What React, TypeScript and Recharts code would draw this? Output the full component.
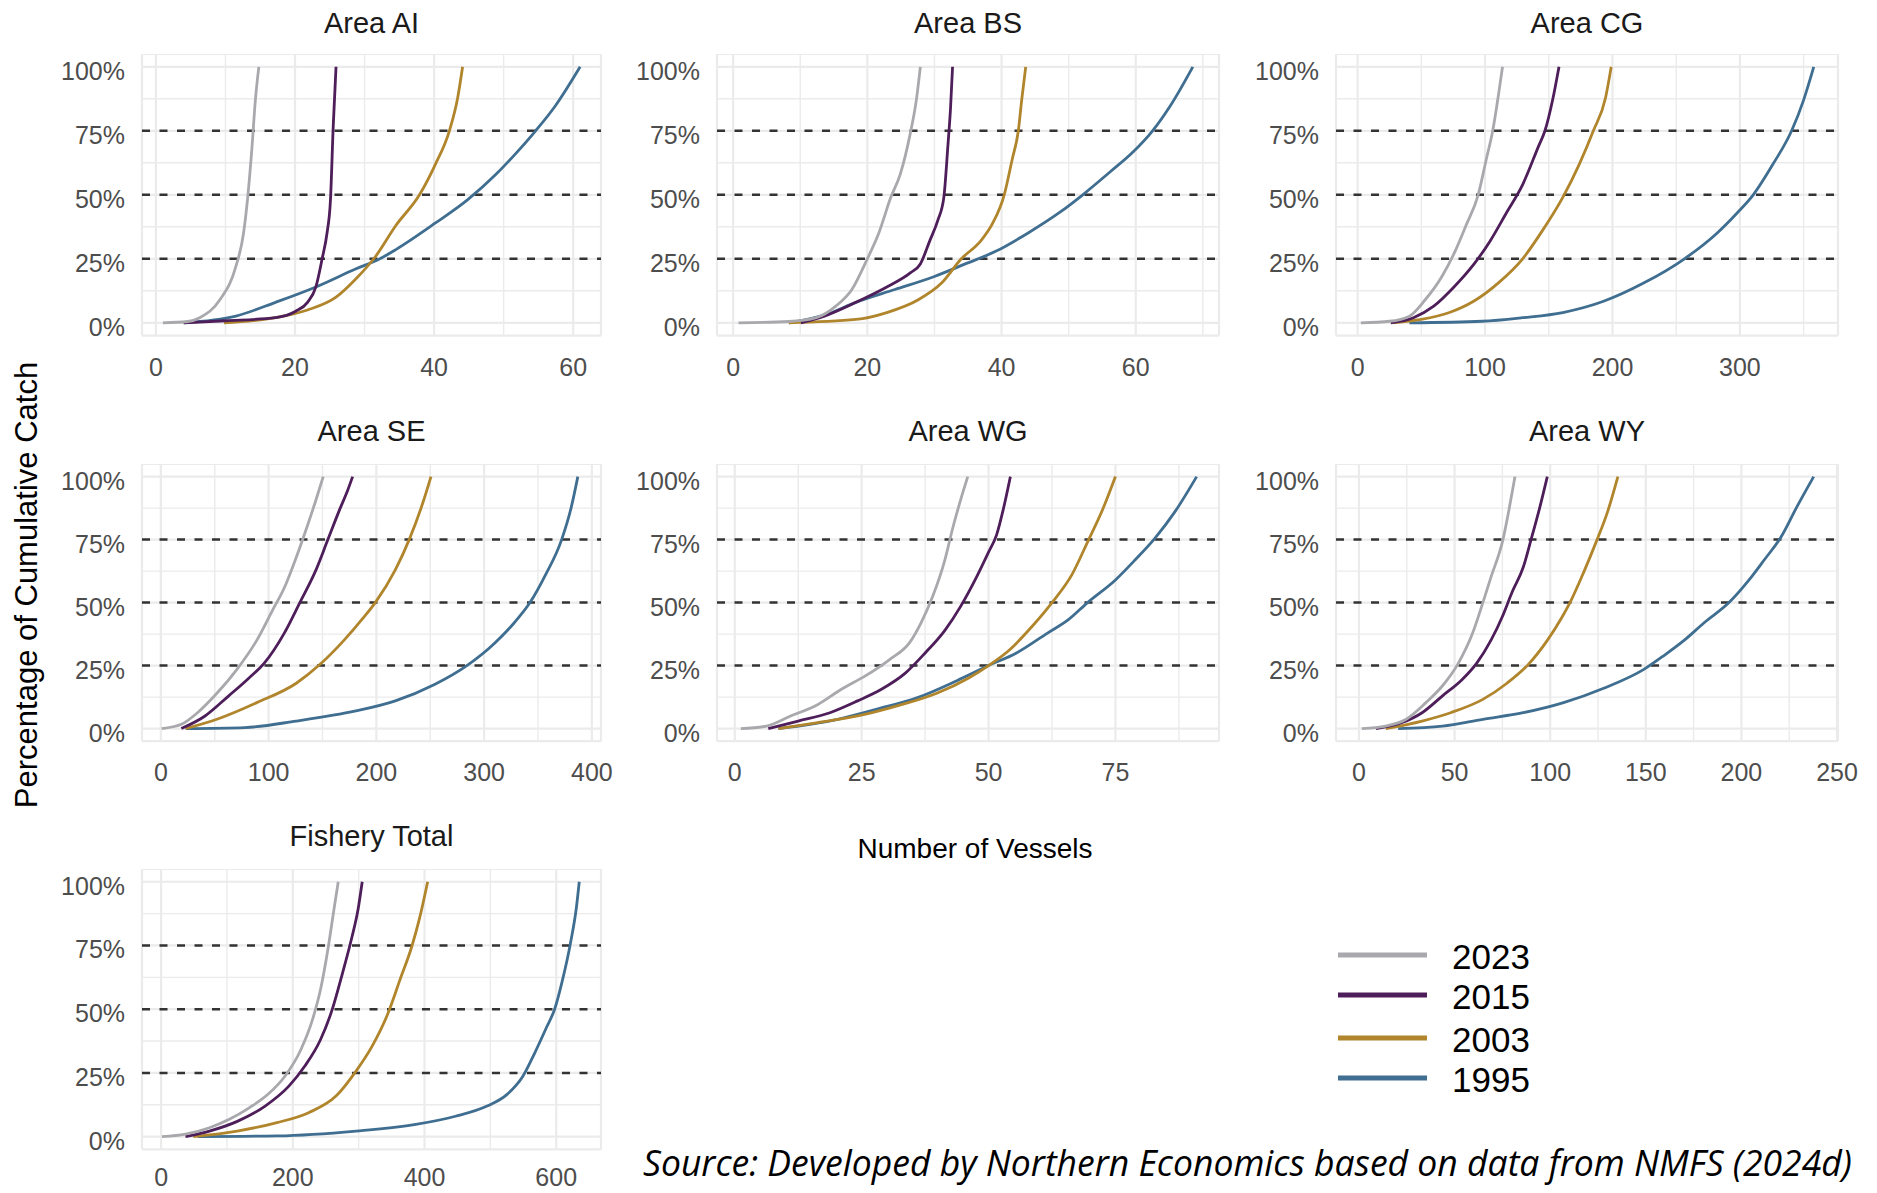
import React from 'react';
import { LineChart, Line, XAxis, YAxis, CartesianGrid, ReferenceLine } from 'recharts';

// legend categories, drawn bottom-up so 2023 ends on top
const years = ['2023', '2015', '2003', '1995'];
const yearColors = ['#A9A9AD', '#4E1E5A', '#B0852C', '#3F6E91'];

const yTicks = [0, 25, 50, 75, 100];
const yMinor = [12.5, 37.5, 62.5, 87.5];
const refLevels = [25, 50, 75];

// [vessels, cumulative catch %]
const ai2023 = [[1, 0], [4.6, 0.5], [6.3, 2], [9.2, 9], [11.5, 22], [12.6, 35], [13.2, 49], [13.8, 68], [14.3, 87], [14.8, 100]];
const ai2015 = [[4, 0], [10, 0.8], [17.2, 2], [20.1, 4.5], [21.8, 8], [23, 14], [23.9, 25], [24.6, 35], [25.1, 48], [25.5, 77], [25.9, 100]];
const ai2003 = [[9.8, 0], [17.2, 2], [21.8, 5], [25.9, 10], [28.7, 17], [31.6, 26], [34.5, 38], [37.9, 50], [40.2, 62], [42.2, 75], [43.4, 88], [44.1, 100]];
const ai1995 = [[4, 0], [11.5, 2.6], [17.2, 8], [23, 14], [28.7, 21], [32.2, 25], [34.5, 28.6], [40.2, 39], [44.8, 48], [48.9, 58], [51.7, 66], [54.6, 75], [57.5, 85], [61, 100]];

const bs2023 = [[0.8, 0], [8.3, 0.5], [12.4, 2], [15.3, 6.5], [17.7, 13], [20, 25], [21.7, 35], [23.5, 49], [24.9, 58], [26.4, 74], [27.3, 87], [27.9, 100]];
const bs2015 = [[10.1, 0], [13.6, 2.6], [18.3, 8], [22.9, 14], [26.4, 19.5], [27.9, 23], [29.3, 32], [30.5, 40], [31.4, 49], [32, 69], [32.4, 84], [32.7, 100]];
const bs2003 = [[8.3, 0], [18.3, 1.3], [22.9, 4], [27.6, 9], [31.1, 15.6], [34, 25], [36.9, 32], [38.7, 39], [40.4, 50], [41.6, 64], [42.5, 75], [43, 87], [43.6, 100]];
const bs1995 = [[8.3, 0], [13.6, 3], [18.3, 8], [24.1, 13], [29.9, 18], [34.6, 23], [39.2, 28], [43.9, 35], [48.6, 43], [52.1, 50], [56.2, 59], [59.7, 67], [62.5, 75], [65.2, 85], [68.5, 100]];

const cg2023 = [[2.5, 0], [25, 0.6], [40.6, 2.6], [53, 9], [66, 18], [75.6, 27], [85, 38], [94.6, 50], [101, 64], [106, 75], [110.8, 90], [113.7, 100]];
const cg2015 = [[26, 0], [43.8, 2], [59.7, 6.5], [75.6, 14], [91.4, 23], [104, 32], [116.8, 43], [129.5, 54], [142, 69], [147, 75], [153, 87], [158, 100]];
const cg2003 = [[28, 0], [50, 1.3], [72, 4], [91, 8.4], [110.5, 15.6], [129.5, 25], [145, 36], [161, 49], [174, 62], [185, 75], [194.6, 88], [199, 100]];
const cg1995 = [[40.6, 0], [97.8, 0.6], [129.5, 2], [161, 4], [193, 8.4], [224.8, 15.6], [256.5, 25], [282, 35], [298, 43], [310.5, 50], [326, 62], [340.6, 75], [350, 87], [358, 100]];

const se2023 = [[0.7, 0], [19, 1.7], [34, 6.3], [52, 14], [70.6, 23.5], [89, 35], [103.7, 47], [114.7, 56], [125.7, 68], [136.8, 81.5], [144, 90.8], [150.7, 100]];
const se2015 = [[19, 0], [41, 5], [63, 13], [81.6, 20], [96, 26], [114.7, 38], [129, 50], [144, 63], [155, 75], [166, 87], [173.5, 94.7], [178, 100]];
const se2003 = [[23, 0], [52, 3.7], [89, 10.3], [125.7, 18], [147.8, 25.5], [169.9, 35], [188, 44], [199, 50], [217.6, 63], [230.5, 75], [243, 89.4], [250.7, 100]];
const se1995 = [[23, 0], [78, 0.4], [125.7, 3], [181, 7], [217.6, 11], [254, 17.5], [284, 25], [310, 34], [328, 42], [342.6, 50], [357, 61], [372, 75], [381, 88], [387, 100]];

const wg2023 = [[1.2, 0], [6.25, 1], [11, 5], [16.4, 9.6], [21, 15.6], [25.8, 21], [30.5, 27.4], [34.4, 34], [36.7, 42], [39, 52.5], [41.4, 67], [43, 80], [44.5, 90.8], [45.9, 100]];
const wg2015 = [[6.6, 0], [12.5, 3], [18.75, 6.3], [24.2, 11], [28.9, 15.6], [33.6, 22], [37.5, 30], [41.4, 39], [44.5, 48.5], [47.6, 60], [50, 70], [51.6, 77], [52.9, 87], [54.3, 100]];
const wg2003 = [[8.6, 0], [16.4, 2.4], [24.2, 5], [32, 9], [39.8, 14], [46, 20], [50, 25], [54, 31], [58.6, 40.6], [62.5, 50], [66.4, 61], [69.5, 74], [72.7, 88], [75, 100]];
const wg1995 = [[8.6, 0], [20.3, 3.7], [28, 7.7], [36, 12.3], [43.75, 19], [50, 25], [55.5, 30], [61.7, 38], [65.6, 43], [69.5, 50], [75, 59], [78.9, 67], [82.8, 75.6], [86.7, 86], [91, 100]];

const wy2023 = [[1.5, 0], [14, 1], [24.7, 3.7], [35, 10.3], [43.7, 17], [52, 26], [59.5, 38], [64.8, 50], [69, 60], [75.3, 75], [78.5, 87], [81.6, 100]];
const wy2015 = [[8.9, 0], [22.6, 2.4], [33, 6.3], [43.7, 13], [54, 19.5], [61.6, 26], [69, 35], [75.3, 45], [80, 54], [85.9, 64], [90, 75], [94.3, 87], [98.5, 100]];
const wy2003 = [[14, 0], [33, 3], [47.9, 6.3], [64.8, 11.6], [77.4, 18], [88, 25], [98.5, 35], [106, 44], [111, 51], [117.5, 62], [124, 74], [130, 86], [135.4, 100]];
const wy1995 = [[20.5, 0], [43.7, 1], [64.8, 3.7], [85.9, 6.3], [107, 10.3], [128, 16], [149, 23.5], [159.5, 29], [170, 35], [180.5, 42], [193.5, 50], [204, 59], [212, 67], [220.7, 76], [229, 88], [237.8, 100]];

const ft2023 = [[1.2, 0], [37, 1], [73.5, 3.5], [103.6, 6.8], [133.7, 11.3], [164, 17], [188, 23.7], [212, 34], [230, 46], [242, 57.6], [254, 74.6], [263, 90], [269, 100]];
const ft2015 = [[37, 0], [73.5, 2.2], [115.7, 6], [158, 12], [194, 19.8], [218, 27.6], [242, 38], [260, 50], [275.3, 64], [290, 78.5], [299, 89], [305.4, 100]];
const ft2003 = [[49, 0], [115.7, 2.2], [176, 5.5], [224, 9.4], [266, 16], [296, 25.7], [320.5, 35.5], [344.6, 48.4], [362.7, 61.5], [380.7, 74.6], [392.8, 86], [404.8, 100]];
const ft1995 = [[55.4, 0], [176, 0.3], [296, 2.2], [386.7, 4.8], [447, 8], [495, 12], [525, 16.5], [549.4, 23.7], [567.5, 32.9], [585.5, 43], [597.6, 50], [609.6, 61.5], [621.7, 76], [630.7, 90], [635, 100]];

// x tick labels and minor breaks
const aiTicks = [0, 20, 40, 60];
const aiMinor = [10, 30, 50];
const bsTicks = [0, 20, 40, 60];
const bsMinor = [10, 30, 50, 70];
const cgTicks = [0, 100, 200, 300];
const cgMinor = [50, 150, 250, 350];
const seTicks = [0, 100, 200, 300, 400];
const seMinor = [50, 150, 250, 350];
const wgTicks = [0, 25, 50, 75];
const wgMinor = [12.5, 37.5, 62.5, 87.5];
const wyTicks = [0, 50, 100, 150, 200, 250];
const wyMinor = [25, 75, 125, 175, 225];
const ftTicks = [0, 200, 400, 600];
const ftMinor = [100, 300, 500];

const panels = [
  { title: 'Area AI', series: [ai2023, ai2015, ai2003, ai1995], ticks: aiTicks, minor: aiMinor, domain: [-2, 64], col: 0, row: 0 },
  { title: 'Area BS', series: [bs2023, bs2015, bs2003, bs1995], ticks: bsTicks, minor: bsMinor, domain: [-2.4, 72.4], col: 1, row: 0 },
  { title: 'Area CG', series: [cg2023, cg2015, cg2003, cg1995], ticks: cgTicks, minor: cgMinor, domain: [-17, 377], col: 2, row: 0 },
  { title: 'Area SE', series: [se2023, se2015, se2003, se1995], ticks: seTicks, minor: seMinor, domain: [-17.5, 408.5], col: 0, row: 1 },
  { title: 'Area WG', series: [wg2023, wg2015, wg2003, wg1995], ticks: wgTicks, minor: wgMinor, domain: [-3.5, 95.4], col: 1, row: 1 },
  { title: 'Area WY', series: [wy2023, wy2015, wy2003, wy1995], ticks: wyTicks, minor: wyMinor, domain: [-12, 250.5], col: 2, row: 1 },
  { title: 'Fishery Total', series: [ft2023, ft2015, ft2003, ft1995], ticks: ftTicks, minor: ftMinor, domain: [-29, 668], col: 0, row: 2 },
];

const sourceNote = 'Source: Developed by Northern Economics based on data from NMFS (2024d)';

const W = 1877;
const H = 1193;
const YW = 110; // room for y tick labels
const FONT = '"Liberation Sans", Arial, sans-serif';

const cols = [
  [142, 601],
  [717, 1219],
  [1336, 1838],
];
const rows = [
  { top: 54.2, bottom: 335.8, gap: 31, titleY: 22 },
  { top: 464.4, bottom: 741.6, gap: 31, titleY: 430 },
  { top: 869.3, bottom: 1149.7, gap: 28, titleY: 835 },
];

const toPoints = (arr: number[][]) => arr.map(([x, y]) => ({ x, y }));

function Panel({ p }: { p: any }) {
  const [pl, pr] = cols[p.col];
  const r = rows[p.row];
  const plotW = pr - pl;
  const plotH = r.bottom - r.top;
  const rightPad = 35;
  const xh = Math.min(60, H - r.bottom);
  const [d0, d1] = p.domain;

  const minorV = ({ offset }: any) =>
    p.minor.map((v: number) => offset.left + ((v - d0) / (d1 - d0)) * offset.width);
  const minorH = ({ offset }: any) =>
    yMinor.map((v) => offset.top + ((105 - v) / 110) * offset.height);

  const xTick = (props: any) => (
    <text x={props.x} y={plotH + r.gap + 9} textAnchor="middle" fontSize={25} fill="#4D4D4D" fontFamily={FONT}>
      {props.payload.value}
    </text>
  );
  const yTick = (props: any) => (
    <text x={YW - 17} y={props.y + 13} textAnchor="end" fontSize={25} fill="#4D4D4D" fontFamily={FONT}>
      {props.payload.value + '%'}
    </text>
  );

  const order = [3, 2, 1, 0];

  return (
    <div style={{ position: 'absolute', left: pl - YW, top: r.top }}>
      <LineChart width={plotW + YW + rightPad} height={plotH + xh} margin={{ top: 0, right: rightPad, bottom: 0, left: 0 }}>
        <CartesianGrid
          stroke="#EBEBEB"
          strokeWidth={1.4}
          horizontalCoordinatesGenerator={minorH}
          verticalCoordinatesGenerator={minorV}
        />
        <CartesianGrid stroke="#EBEBEB" strokeWidth={2.2} />
        <XAxis
          type="number"
          dataKey="x"
          domain={p.domain}
          ticks={p.ticks}
          interval={0}
          allowDataOverflow
          height={xh}
          tickLine={false}
          axisLine={false}
          tick={xTick}
        />
        <YAxis
          type="number"
          domain={[-5, 105]}
          ticks={yTicks}
          interval={0}
          allowDataOverflow
          width={YW}
          tickLine={false}
          axisLine={false}
          tick={yTick}
        />
        {refLevels.map((lv) => (
          <ReferenceLine key={lv} y={lv} stroke="#333333" strokeWidth={2.5} strokeDasharray="8 9.5" />
        ))}
        {order.map((i) => (
          <Line
            key={years[i]}
            data={toPoints(p.series[i])}
            dataKey="y"
            type="monotone"
            stroke={yearColors[i]}
            strokeWidth={2.8}
            dot={false}
            activeDot={false}
            isAnimationActive={false}
          />
        ))}
      </LineChart>
    </div>
  );
}

// condensed italic note: measured once, then squeezed to the reference width
function SourceNote() {
  const ref = React.useRef<SVGTextElement>(null);
  const [sx, setSx] = React.useState(0.92);
  React.useLayoutEffect(() => {
    if (ref.current) {
      const len = ref.current.getComputedTextLength();
      if (len > 0) setSx(1209 / len);
    }
  }, []);
  return (
    <g transform={`translate(643 1176) scale(${sx} 1)`}>
      <text
        ref={ref}
        x={0}
        y={0}
        fontSize={37}
        fontStyle="italic"
        fill="#000000"
        fontFamily={'"Open Sans", "Noto Sans", sans-serif'}
      >
        {sourceNote}
      </text>
    </g>
  );
}

export default function App() {
  const legendY = [955, 995, 1038, 1078];
  return (
    <div
      style={{
        position: 'absolute',
        left: 0,
        top: 0,
        width: W,
        height: H,
        overflow: 'hidden',
        background: '#FFFFFF',
      }}
    >
      {panels.map((p) => (
        <Panel key={p.title} p={p} />
      ))}
      <svg width={W} height={H} style={{ position: 'absolute', left: 0, top: 0, pointerEvents: 'none' }}>
        {panels.map((p) => {
          const [pl, pr] = cols[p.col];
          const r = rows[p.row];
          return (
            <text
              key={p.title}
              x={(pl + pr) / 2}
              y={r.titleY + 10.5}
              textAnchor="middle"
              fontSize={29}
              fill="#1A1A1A"
              fontFamily={FONT}
            >
              {p.title}
            </text>
          );
        })}
        <text
          x={37}
          y={585}
          transform="rotate(-90 37 585)"
          textAnchor="middle"
          fontSize={31}
          fill="#000000"
          fontFamily={FONT}
        >
          Percentage of Cumulative Catch
        </text>
        <text x={975} y={858} textAnchor="middle" fontSize={28} fill="#000000" fontFamily={FONT}>
          Number of Vessels
        </text>
        {years.map((yr, i) => (
          <g key={yr}>
            <line x1={1338} x2={1427} y1={legendY[i]} y2={legendY[i]} stroke={yearColors[i]} strokeWidth={5} />
            <text x={1452} y={legendY[i] + 14} fontSize={35} fill="#000000" fontFamily={FONT}>
              {yr}
            </text>
          </g>
        ))}
        <SourceNote />
      </svg>
    </div>
  );
}
